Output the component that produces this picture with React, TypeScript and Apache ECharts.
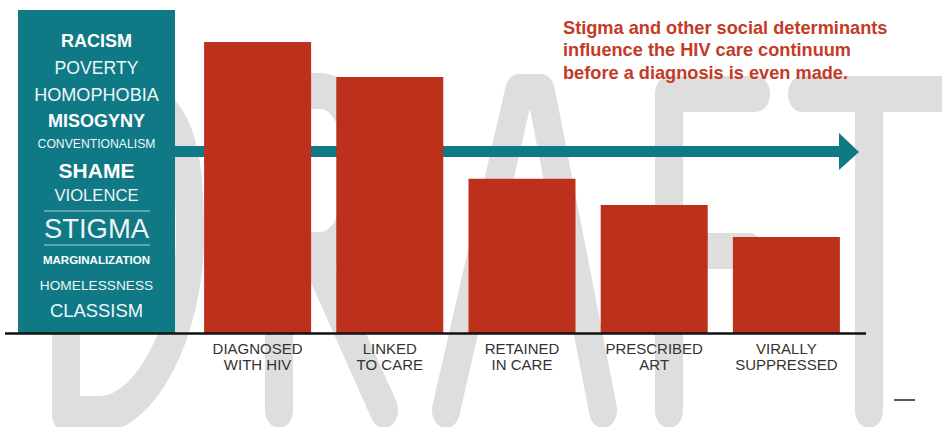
import React, { useEffect, useRef } from "react";
import * as echarts from "echarts";

// ---- data ----
const categories = [
  "DIAGNOSED\nWITH HIV",
  "LINKED\nTO CARE",
  "RETAINED\nIN CARE",
  "PRESCRIBED\nART",
  "VIRALLY\nSUPPRESSED",
];
const values = [100, 88, 53, 44, 33];

const determinants = [
  "RACISM",
  "POVERTY",
  "HOMOPHOBIA",
  "MISOGYNY",
  "CONVENTIONALISM",
  "SHAME",
  "VIOLENCE",
  "STIGMA",
  "MARGINALIZATION",
  "HOMELESSNESS",
  "CLASSISM",
];

const annotation = [
  "Stigma and other social determinants",
  "influence the HIV care continuum",
  "before a diagnosis is even made.",
];

const watermarkText = "DRAFT";

// ---- styles / layout ----
const FONT = "'Liberation Sans', Arial, Helvetica, sans-serif";
const detY = [41, 68, 95, 121, 144, 170, 195, 228, 260, 285, 310];
const detSize = [18, 17.6, 18.1, 18, 12.2, 21, 16.6, 27.4, 11.5, 13.7, 18.4];
const detBold = [true, false, false, true, false, true, false, false, true, false, false];

const TEAL = "#107986";
const RED_BAR = "#bd301b";
const RED_TEXT = "#c33b26";
const WM = "#dedede";

const S = 0.78; // horizontal squeeze of watermark letters
const sx = (pts: number[][]) => pts.map(([x, y]) => [x / S, y]);

function watermark() {
  const st = { stroke: WM, lineWidth: 36, fill: "none", lineCap: "round", lineJoin: "round" };
  const lines = [
    // D
    [[100, 92], [66, 92], [66, 414], [100, 414]],
    // R
    [[320, 91], [279, 91], [279, 410]],
    [[279, 250], [320, 250]],
    [[318, 262], [384, 410]],
    // A
    [[446, 410], [519, 92], [541, 92], [603, 410]],
    [[475, 300], [580, 300]],
    // F
    [[756, 94], [669, 94], [669, 410]],
    [[669, 251], [749, 251]],
    // T
    [[802, 94], [1000, 94]],
    [[869, 94], [869, 410]],
  ];
  const curves = [
    [100, 92, 175, 92, 190, 130, 190, 235],
    [190, 235, 190, 330, 145, 414, 100, 414],
    [320, 91, 372, 91, 372, 250, 320, 250],
  ];
  const children: any[] = [];
  lines.forEach((p) =>
    children.push({ type: "polyline", z: 0, shape: { points: sx(p) }, style: { ...st } })
  );
  curves.forEach((c) =>
    children.push({
      type: "bezierCurve",
      z: 0,
      shape: {
        x1: c[0] / S, y1: c[1],
        cpx1: c[2] / S, cpy1: c[3],
        cpx2: c[4] / S, cpy2: c[5],
        x2: c[6] / S, y2: c[7],
      },
      style: { ...st },
    })
  );
  return { type: "group", name: watermarkText, x: 0, y: 0, scaleX: S, scaleY: 1, z: 0, children };
}

export default function App() {
  const ref = useRef<HTMLDivElement>(null);
  useEffect(() => {
    const chart = echarts.init(ref.current!, null, { renderer: "svg" });

    const detTexts = determinants.map((t, i) => ({
      type: "text",
      z: 5,
      style: {
        text: t,
        x: 96.5,
        y: detY[i],
        fill: detBold[i] ? "#ffffff" : "#eef6f7",
        fontSize: detSize[i],
        fontWeight: detBold[i] ? "bold" : "normal",
        fontFamily: FONT,
        align: "center",
        verticalAlign: "middle",
        textAlign: "center",
        textVerticalAlign: "middle",
      },
    }));

    const option: any = {
      animation: false,
      backgroundColor: "#ffffff",
      grid: { left: 191.5, width: 661, top: 42, height: 291 },
      xAxis: {
        type: "category",
        data: categories,
        axisLine: { show: false },
        axisTick: { show: false },
        splitLine: { show: false },
        axisLabel: {
          color: "#333333",
          fontSize: 15,
          lineHeight: 16,
          margin: 7,
          fontFamily: FONT,
          interval: 0,
        },
      },
      yAxis: { type: "value", min: 0, max: 100, show: false },
      series: [
        {
          type: "bar",
          data: values,
          barWidth: 107,
          z: 2,
          itemStyle: { color: RED_BAR },
        },
      ],
      graphic: [
        watermark(),
        // teal box
        { type: "rect", z: 1, shape: { x: 18, y: 10, width: 157, height: 323 }, style: { fill: TEAL } },
        // arrow
        { type: "rect", z: 1, shape: { x: 175, y: 146, width: 666, height: 11 }, style: { fill: TEAL } },
        { type: "polygon", z: 1, shape: { points: [[839, 133], [859, 152], [839, 170]] }, style: { fill: TEAL } },
        // separators around STIGMA
        { type: "line", z: 5, shape: { x1: 44, y1: 211, x2: 150, y2: 211 }, style: { stroke: "#a8d2d7", lineWidth: 1 } },
        { type: "line", z: 5, shape: { x1: 44, y1: 245, x2: 150, y2: 245 }, style: { stroke: "#a8d2d7", lineWidth: 1 } },
        ...detTexts,
        // baseline
        { type: "line", z: 10, shape: { x1: 5, y1: 333.5, x2: 866, y2: 333.5 }, style: { stroke: "#111111", lineWidth: 2.5 } },
        // small dash
        { type: "line", z: 10, shape: { x1: 894, y1: 400, x2: 915, y2: 400 }, style: { stroke: "#222222", lineWidth: 1.5 } },
        // annotation
        {
          type: "text",
          z: 10,
          style: {
            text: annotation.join("\n"),
            x: 563,
            y: 17,
            lineHeight: 22.3,
            fill: RED_TEXT,
            fontSize: 18.2,
            fontWeight: "bold",
            fontFamily: FONT,
            align: "left",
            verticalAlign: "top",
            textAlign: "left",
            textVerticalAlign: "top",
          },
        },
      ],
    };
    chart.setOption(option);
    return () => chart.dispose();
  }, []);
  return (
    <div
      ref={ref}
      style={{ position: "fixed", left: 0, top: 0, width: 942, height: 427, background: "#fff" }}
    />
  );
}
